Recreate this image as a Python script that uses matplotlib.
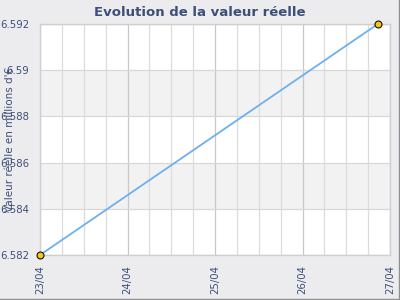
import matplotlib
matplotlib.use("Agg")
import matplotlib.pyplot as plt
import matplotlib.dates as mdates
from matplotlib.lines import Line2D
import datetime as dt

# Data
dates = [dt.datetime(2015, 4, 23, 0, 0), dt.datetime(2015, 4, 26, 20, 40)]
values = [6.582, 6.592]
yticks = [6.582, 6.584, 6.586, 6.588, 6.59, 6.592]
ytick_labels = ["6.582", "6.584", "6.586", "6.588", "6.59", "6.592"]
xtick_dates = [dt.datetime(2015, 4, d) for d in (23, 24, 25, 26, 27)]
xtick_labels = ["23/04", "24/04", "25/04", "26/04", "27/04"]
title = "Evolution de la valeur réelle"
ylabel = "Valeur réelle en millions d'€"

txt = "#3d4f78"
fig = plt.figure(figsize=(4, 3), dpi=100, facecolor="#ececee")
ax = fig.add_axes([0.1, 0.15, 0.875, 0.77])
ax.set_facecolor("white")

# alternating bands
for i in range(len(yticks) - 1):
    if i % 2 == 1:
        ax.axhspan(yticks[i], yticks[i + 1], color="#f2f2f2", zorder=0, lw=0)

ax.set_xlim(xtick_dates[0], xtick_dates[-1])
ax.set_ylim(yticks[0], yticks[-1])
ax.set_yticks(yticks)
ax.set_yticklabels(ytick_labels)
ax.set_xticks(xtick_dates)
ax.set_xticklabels(xtick_labels, rotation=90)
ax.xaxis.set_minor_locator(mdates.HourLocator(byhour=[6, 12, 18]))

ax.grid(True, which="major", axis="x", color="#c8c8c8", lw=0.9, zorder=1)
ax.grid(True, which="minor", axis="x", color="#dcdcdc", lw=0.9, zorder=1)
ax.grid(True, which="major", axis="y", color="#d8d8d8", lw=0.9, zorder=1)
ax.set_axisbelow(True)

ax.tick_params(axis="both", which="both", length=0, colors=txt, labelsize=7.3)
ax.tick_params(axis="y", pad=8)
ax.tick_params(axis="x", pad=7.5)
for s in ax.spines.values():
    s.set_color("#cfcfcf")
    s.set_linewidth(1)

ax.plot(dates, values, color="#6cb0f0", lw=1.3, zorder=3, clip_on=False,
        marker="o", markersize=5, markerfacecolor="#f5c518",
        markeredgecolor="#111111", markeredgewidth=0.8)

fig.text(0.5, 0.96, title, ha="center", va="center", fontsize=9.5,
         fontweight="bold", color=txt)
fig.text(0.025, 0.535, ylabel, rotation=90, ha="center", va="center",
         fontsize=7.5, color=txt)

# figure border shadow (right and bottom)
fig.add_artist(Line2D([0.99625, 0.99625], [0.0, 1.0], transform=fig.transFigure,
                      color="#909090", lw=1.0))
fig.add_artist(Line2D([0.0, 1.0], [0.005, 0.005], transform=fig.transFigure,
                      color="#909090", lw=1.0))

fig.savefig("out.png", dpi=100, facecolor=fig.get_facecolor())
